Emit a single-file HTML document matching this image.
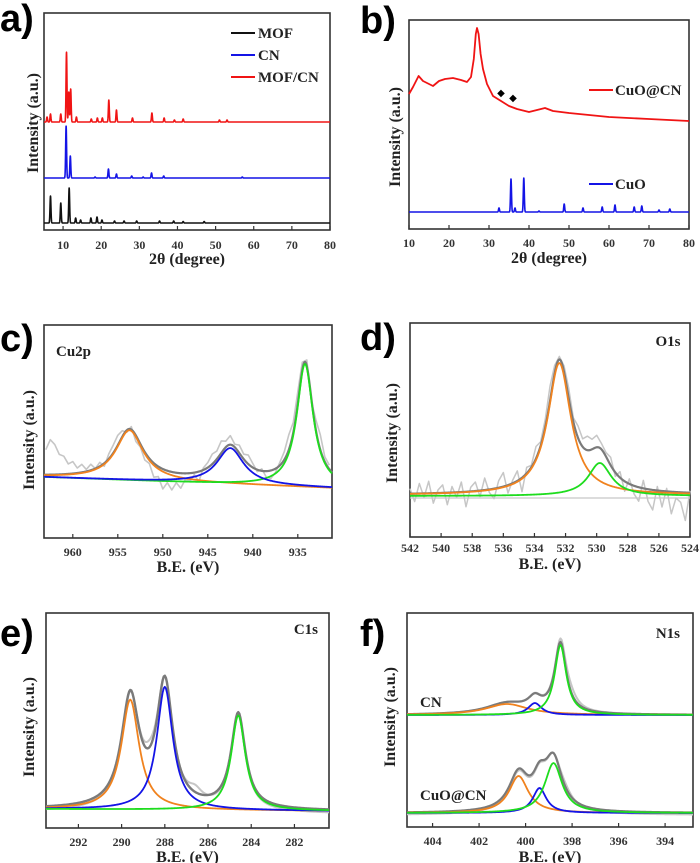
<!DOCTYPE html>
<html><head><meta charset="utf-8">
<style>
html,body{margin:0;padding:0;background:#fff;}
svg{display:block;}
.tk{font-family:"Liberation Serif",serif;font-weight:bold;font-size:12px;fill:#333;}
.ti{font-family:"Liberation Serif",serif;font-weight:bold;font-size:16px;fill:#222;}
.lt{font-family:"Liberation Sans",sans-serif;font-weight:bold;font-size:38px;fill:#000;}
.lg{font-family:"Liberation Serif",serif;font-weight:bold;font-size:15px;fill:#222;}
</style></head>
<body>
<svg id="fig" xmlns="http://www.w3.org/2000/svg" width="700" height="863" viewBox="0 0 700 863"></svg>
<script>
// ---------- Panel a data (XRD) ----------
const aTicks=[10,20,30,40,50,60,70,80];
const aMofPos=[6.7,9.4,11.6,13.3,14.6,17.3,18.9,20.2,23.5,26,29.3,35.3,39,41.5,47];
const aMofH=[27,20,35,5,3,5,6,3,2,2,2,2,2,1.5,1.5];
const aMofBase=7;
const aCnPos=[10.8,11.9,18.4,21.9,24,28,31,33.2,36.4,57];
const aCnH=[52,22,1,9,4,2,1,5,2,1];
const aCnBase=52;
const aMcPos=[5.8,6.7,9.4,10.9,11.5,12,13.5,17.4,19,20.3,22,24,28.2,33.3,36.5,39.2,41.5,51,53];
const aMcH=[5,8,8,70,30,33,5,3,4,4,22,12,4,9,4,2,3,2,2];
const aMcBase=108;
// ---------- Panel b data ----------
const bTicks=[10,20,30,40,50,60,70,80];
const bCuoPos=[32.5,35.5,36.5,38.7,42.5,48.8,53.5,58.3,61.5,66.3,68.2,72.5,75.2];
const bCuoH=[4,33,4,34,1,8,4,5,7,5,6,2,3];
const bCuoBase=17;
const bRedX=[10,11,12.4,13.5,15,16,17.5,19,21,23,24.5,25.5,26.2,26.7,27,27.4,27.9,28.5,29.5,31,33,35,37,40,42,44,46,50,55,60,70,80];
const bRedY=[135,142,153,148,145,143,148,150,151,149,147,152,170,195,201,195,175,160,145,133,128,123,120,117,119,121,118,116,114,112,110,108];
const bStarX=[33,36];
const bStarY=[137,132];
// ---------- Panel c data (Cu2p) ----------
const cTicks=[960,955,950,945,940,935];
const cBaseLeft=61, cBaseRight=50;
const cPos=[953.7,942.5,934.2];
const cAmp=[50,36,123];
const cFwhm=[3.7,3.6,2.2];
const cNoise=[25,35,30,20,18,10,12,5,8,2,6,0,4,-3,5,8,10,6,-2,3,-6,-3,-8,-5,-14,-10,-20,-12,-18,-10,-15,-6,-8,-2,-10,2,5,10,8,12,6,9,3,8,5,9,4,-2,2,-6,-8,-4,3,8,15,10,12,8,6,-3,10,15,5,4];
// ---------- Panel d data (O1s) ----------
const dTicks=[542,540,538,536,534,532,530,528,526,524];
const dBase=42;
const dPos=[532.4,529.8];
const dAmp=[132,33];
const dFwhm=[1.8,1.8];
const dNoise=[5,-8,10,-4,12,-10,3,8,-12,6,-5,10,-15,4,9,-6,12,-3,-10,7,14,-8,3,10,-14,6,2,12,4,8,15,8,3,6,10,4,12,8,14,10,12,6,4,8,-4,6,-10,5,-8,-14,8,-12,-20,4,-16,3,-22,-6,-10,-28,2];
// ---------- Panel e data (C1s) ----------
const eTicks=[292,290,288,286,284,282];
const eBaseLeft=19, eBaseRight=17;
const ePos=[289.6,288.0,284.6];
const eAmp=[110,123,95];
const eFwhm=[1.0,0.9,0.8];
const eRawPos=[286.6,288.7];
const eRawAmp=[10,10];
// ---------- Panel f data (N1s) ----------
const fTicks=[404,402,400,398,396,394];
const fCnBase=112;
const fCnPos=[400.8,399.6,398.5];
const fCnAmp=[11,12,70];
const fCnFwhm=[2.2,0.7,0.6];
const fCuBase=14;
const fCuPos=[400.3,399.4,398.8];
const fCuAmp=[37,25,50];
const fCuFwhm=[1.0,0.7,0.9];

const NS="http://www.w3.org/2000/svg";
const fig=document.getElementById('fig');
function mk(tag,attrs,parent){const e=document.createElementNS(NS,tag);for(const k in attrs)e.setAttribute(k,attrs[k]);(parent||fig).appendChild(e);return e;}
const ORANGE="#f0821e",BLUE="#1414e6",GREEN="#1edc1e",ENV="#7a7a7a",RAW="#c6c6c6";
function lor(x,c,a,w){const t=(x-c)/(w/2);return a/(1+t*t);}
function gau(x,c,a){const t=(x-c)/0.17;return a*Math.exp(-t*t);}
function axes(p){
  p.xs=v=>p.x0+(v-p.dmin)/(p.dmax-p.dmin)*(p.x1-p.x0);
  p.ys=v=>p.y1-v;
  const g=mk('g',{});
  
  
  p.g=g;
  return p;
}
function frame(p){
  const r=mk('rect',{x:p.x0,y:p.y0,width:p.x1-p.x0,height:p.y1-p.y0,fill:'none',stroke:'#333','stroke-width':1.6},p.g);
  
  
  p.ticks.forEach(t=>{
    const x=p.xs(t);
    const tl=mk('line',{x1:x,x2:x,y1:p.y1,y2:p.y1-4,stroke:'#333','stroke-width':1.2},p.g);
    
    
    const tx=mk('text',{x:x,y:p.tickY,'text-anchor':'middle',class:'tk'},p.g);
    
    
    tx.textContent=t;
  });
  const xt=mk('text',{x:(p.x0+p.x1)/2,y:p.titleY,'text-anchor':'middle',class:'ti'},p.g);
  
  
  xt.textContent=p.xTitle;
  const yt=mk('text',{x:0,y:0,'text-anchor':'middle',class:'ti',transform:`translate(${p.ytx},${p.yty}) rotate(-90)`},p.g);
  
  
  yt.textContent='Intensity (a.u.)';
  const lt=mk('text',{x:p.lx,y:p.ly,class:'lt'},p.g);
  
  
  lt.textContent=p.letter;
}
function curve(p,f,color,w,name,step){
  const a=Math.min(p.dmin,p.dmax),b=Math.max(p.dmin,p.dmax);
  let d='';const s=step||0.05;
  for(let x=a;x<=b+1e-9;x+=s){d+=(d?'L':'M')+p.xs(x).toFixed(2)+','+p.ys(f(x)).toFixed(2);}
  const e=mk('path',{d:d,fill:'none',stroke:color,'stroke-width':w,'stroke-linejoin':'round'},p.g);
  
  
  return e;
}
function pts(p,X,Y,color,w,name){
  let d='';X.forEach((x,i)=>{d+=(i?'L':'M')+p.xs(x).toFixed(2)+','+p.ys(Y[i]).toFixed(2);});
  const e=mk('path',{d:d,fill:'none',stroke:color,'stroke-width':w,'stroke-linejoin':'round'},p.g);
  
  
}
function label(p,x,y,txt,anchor,name){
  const t=mk('text',{x:x,y:y,class:'lg','text-anchor':anchor||'start'},p.g);
  
  
  t.textContent=txt;
}
function legendLine(p,x1,x2,y,color,name){
  const l=mk('line',{x1:x1,x2:x2,y1:y,y2:y,stroke:color,'stroke-width':2},p.g);
  
  
}

// ===== Panel a =====
const A=axes({name:'panel-a-xrd',x0:44,x1:330,y0:13,y1:230,dmin:5,dmax:80,ticks:aTicks,tickY:249,titleY:264,xTitle:'2θ (degree)',ytx:38,yty:123,letter:'a)',lx:0,ly:31});
frame(A);
curve(A,x=>aMofBase+aMofPos.reduce((s,c,i)=>s+gau(x,c,aMofH[i]),0),'#111',1.6,'mof-pattern',0.03);
curve(A,x=>aCnBase+aCnPos.reduce((s,c,i)=>s+gau(x,c,aCnH[i]),0),BLUE,1.6,'cn-pattern',0.03);
curve(A,x=>aMcBase+aMcPos.reduce((s,c,i)=>s+gau(x,c,aMcH[i]),0),'#f01414',1.6,'mof-cn-pattern',0.03);
legendLine(A,231,255,33,'#111','legend-mof-line');label(A,258,38,'MOF','start','legend-mof');
legendLine(A,231,255,55,BLUE,'legend-cn-line');label(A,258,60,'CN','start','legend-cn');
legendLine(A,231,255,77,'#f01414','legend-mofcn-line');label(A,258,82,'MOF/CN','start','legend-mof-cn');

// ===== Panel b =====
const B=axes({name:'panel-b-xrd',x0:409,x1:689,y0:20,y1:229,dmin:10,dmax:80,ticks:bTicks,tickY:247,titleY:263,xTitle:'2θ (degree)',ytx:400,yty:137,letter:'b)',lx:360,ly:33});
frame(B);
pts(B,bRedX,bRedY,'#f01414',1.8,'cuo-cn-pattern');
curve(B,x=>bCuoBase+bCuoPos.reduce((s,c,i)=>s+gau(x,c,bCuoH[i]),0),BLUE,1.6,'cuo-pattern',0.03);
bStarX.forEach((x,i)=>{const c=mk('text',{x:B.xs(x),y:B.ys(bStarY[i])+4,'text-anchor':'middle',style:'font-size:10px;font-family:DejaVu Sans,sans-serif'},B.g);
  
  
  c.textContent='◆';});
legendLine(B,589,613,90,'#f01414','legend-cuo-cn-line');label(B,615,95,'CuO@CN','start','legend-cuo-cn');
legendLine(B,589,613,184,BLUE,'legend-cuo-line');label(B,615,189,'CuO','start','legend-cuo');

// ===== Panel c =====
const C=axes({name:'panel-c-cu2p',x0:44,x1:332,y0:325,y1:538,dmin:963.2,dmax:931.2,ticks:cTicks,tickY:556,titleY:572,xTitle:'B.E. (eV)',ytx:34,yty:440,letter:'c)',lx:0,ly:351});
frame(C);
const cBase=x=>cBaseLeft+(963.2-x)/(963.2-931.2)*(cBaseRight-cBaseLeft);
const cEnv=x=>cBase(x)+cPos.reduce((s,c,i)=>s+lor(x,c,cAmp[i],cFwhm[i]),0);
pts(C,cNoise.map((n,i)=>963-i*0.5),cNoise.map((n,i)=>cEnv(963-i*0.5)+n),RAW,1.6,'cu2p-raw-data');
curve(C,cEnv,ENV,2.2,'cu2p-envelope');
curve(C,x=>cBase(x)+lor(x,cPos[0],cAmp[0],cFwhm[0]),ORANGE,1.8,'cu2p-peak-1');
curve(C,x=>cBase(x)+lor(x,cPos[2],cAmp[2],cFwhm[2]),GREEN,1.8,'cu2p-peak-3');
curve(C,x=>cBase(x)+lor(x,cPos[1],cAmp[1],cFwhm[1]),BLUE,1.8,'cu2p-peak-2');
label(C,56,356,'Cu2p','start','cu2p-label');

// ===== Panel d =====
const D=axes({name:'panel-d-o1s',x0:410,x1:690,y0:323,y1:537,dmin:542,dmax:524,ticks:dTicks,tickY:552,titleY:569,xTitle:'B.E. (eV)',ytx:397,yty:433,letter:'d)',lx:360,ly:350});
frame(D);
const dEnv=x=>dBase+dPos.reduce((s,c,i)=>s+lor(x,c,dAmp[i],dFwhm[i]),0);
pts(D,dNoise.map((n,i)=>542-i*0.3),dNoise.map((n,i)=>dEnv(542-i*0.3)+n),RAW,1.5,'o1s-raw-data');
curve(D,x=>dBase-3,'#c8c8c8',1.2,'o1s-baseline');
curve(D,dEnv,ENV,2.2,'o1s-envelope');
curve(D,x=>dBase+lor(x,dPos[0],dAmp[0],dFwhm[0]),ORANGE,1.8,'o1s-peak-1');
curve(D,x=>dBase-1+lor(x,dPos[1],dAmp[1],dFwhm[1]),GREEN,1.8,'o1s-peak-2');
label(D,668,346,'O1s','middle','o1s-label');

// ===== Panel e =====
const E=axes({name:'panel-e-c1s',x0:46,x1:329,y0:613,y1:828,dmin:293.5,dmax:280.4,ticks:eTicks,tickY:846,titleY:862,xTitle:'B.E. (eV)',ytx:34,yty:727,letter:'e)',lx:0,ly:646});
frame(E);
const eBase=x=>eBaseLeft+(293.5-x)/(293.5-280.4)*(eBaseRight-eBaseLeft);
const eEnv=x=>eBase(x)+ePos.reduce((s,c,i)=>s+lor(x,c,eAmp[i],eFwhm[i]),0);
curve(E,x=>eEnv(x)-3+eRawPos.reduce((s,c,i)=>s+lor(x,c,eRawAmp[i],0.8),0),RAW,2,'c1s-raw-data');
curve(E,eEnv,ENV,2.4,'c1s-envelope');
curve(E,x=>eBase(x)+lor(x,ePos[0],eAmp[0],eFwhm[0]),ORANGE,1.8,'c1s-peak-1');
curve(E,x=>eBase(x)+lor(x,ePos[1],eAmp[1],eFwhm[1]),BLUE,1.8,'c1s-peak-2');
curve(E,x=>eBase(x)+lor(x,ePos[2],eAmp[2],eFwhm[2]),GREEN,1.8,'c1s-peak-3');
label(E,318,634,'C1s','end','c1s-label');

// ===== Panel f =====
const F=axes({name:'panel-f-n1s',x0:407,x1:693,y0:613,y1:827,dmin:405.1,dmax:392.8,ticks:fTicks,tickY:845,titleY:862,xTitle:'B.E. (eV)',ytx:395,yty:717,letter:'f)',lx:360,ly:646});
frame(F);
const fCnEnv=x=>fCnBase+fCnPos.reduce((s,c,i)=>s+lor(x,c,fCnAmp[i],fCnFwhm[i]),0);
const fCuEnv=x=>fCuBase+fCuPos.reduce((s,c,i)=>s+lor(x,c,fCuAmp[i],fCuFwhm[i]),0);
curve(F,x=>fCnEnv(x)+lor(x,398.1,8,0.7),RAW,2,'cn-n1s-raw-data');
curve(F,x=>fCuEnv(x)-2+lor(x,398.3,6,0.7),RAW,2,'cuo-cn-n1s-raw-data');
curve(F,fCnEnv,ENV,2.2,'cn-n1s-envelope');
curve(F,fCuEnv,ENV,2.2,'cuo-cn-n1s-envelope');
['orange','blue','green'].forEach((n,i)=>{
  const col=[ORANGE,BLUE,GREEN][i];
  curve(F,x=>fCnBase+lor(x,fCnPos[i],fCnAmp[i],fCnFwhm[i]),col,1.8,'cn-n1s-peak-'+n);
  curve(F,x=>fCuBase+lor(x,fCuPos[i],fCuAmp[i],fCuFwhm[i]),col,1.8,'cuo-cn-n1s-peak-'+n);
});
label(F,420,707,'CN','start','cn-series-label');
label(F,420,800,'CuO@CN','start','cuo-cn-series-label');
label(F,680,638,'N1s','end','n1s-label');
</script>
</body></html>
